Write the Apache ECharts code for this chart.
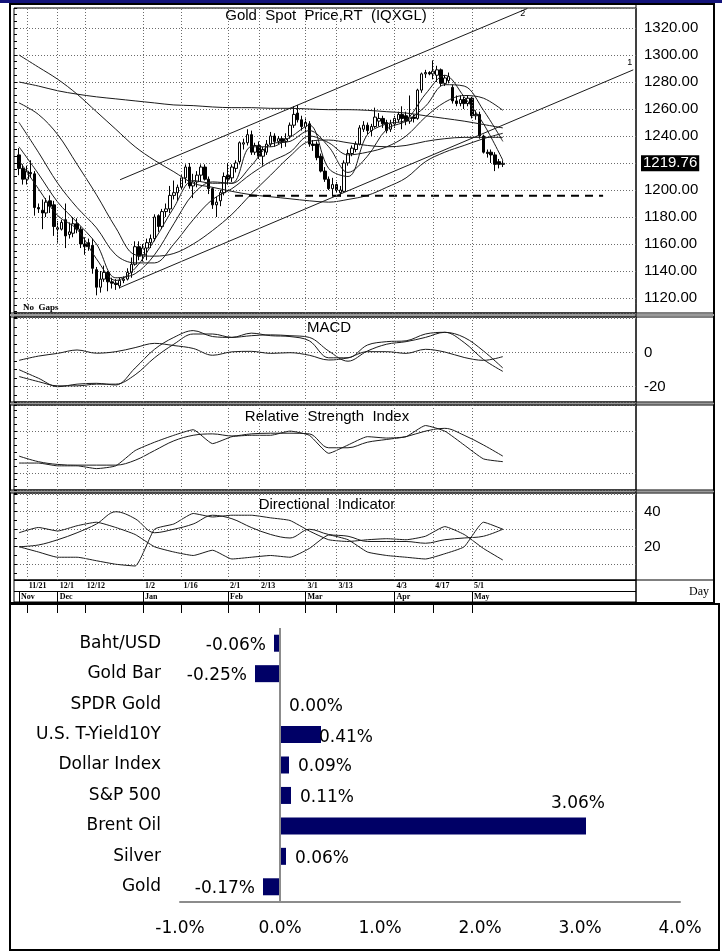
<!DOCTYPE html>
<html>
<head>
<meta charset="utf-8">
<script src="https://cdn.jsdelivr.net/npm/echarts@6/dist/echarts.min.js"></script>
<style>
  html, body { margin: 0; padding: 0; background: #fff; }
  #chart { width: 722px; height: 952px; }
</style>
</head>
<body>
<div id="chart"></div>
<script>
// ---- price candles (one per trading day, Nov 17 .. May 11) ----
const opens = [1226,1216,1208,1213,1212,1187,1185,1183,1192,1189,1172,1171,1178,1167,1168,1175,1171,1160,1161,1159,
  1141,1128,1134,1139,1132,1131,1129,1133,1134,1139,1145,1158,1152,1157,1161,1164,1181,1173,1184,1186,
  1196,1198,1202,1209,1217,1203,1206,1211,1217,1208,1201,1189,1192,1198,1211,1209,1216,1221,1234,1235,
  1241,1228,1233,1225,1228,1234,1240,1236,1238,1236,1240,1248,1257,1252,1247,1249,1234,1234,1225,1214,
  1208,1201,1204,1198,1199,1220,1227,1230,1234,1245,1248,1244,1247,1251,1253,1250,1245,1249,1252,1256,
  1255,1251,1254,1253,1274,1286,1287,1286,1285,1289,1279,1281,1276,1266,1264,1267,1264,1268,1255,1256,
  1240,1228,1228,1226,1221,1219];
const closes = [1216,1208,1214,1212,1187,1186,1183,1191,1188,1173,1171,1176,1166,1169,1175,1171,1160,1158,1158,1142,
  1128,1134,1139,1132,1131,1130,1133,1134,1139,1145,1158,1151,1157,1161,1164,1180,1173,1184,1186,1196,
  1198,1202,1209,1217,1203,1206,1211,1217,1208,1201,1189,1191,1198,1210,1208,1217,1220,1235,1235,1241,
  1228,1233,1225,1230,1234,1240,1236,1238,1236,1238,1248,1256,1252,1247,1250,1234,1233,1224,1214,1208,
  1201,1204,1200,1200,1220,1227,1231,1234,1246,1248,1244,1247,1254,1253,1249,1244,1249,1253,1256,1253,
  1251,1254,1253,1274,1286,1287,1286,1288,1289,1279,1283,1284,1266,1264,1267,1264,1268,1255,1256,1240,
  1228,1227,1226,1219,1219,1219.76];
const lows = [1211,1204,1204,1209,1181,1183,1171,1180,1183,1166,1161,1170,1157,1164,1165,1168,1157,1152,1155,1138,
  1122,1124,1132,1125,1127,1126,1127,1131,1133,1135,1144,1148,1147,1148,1157,1162,1169,1171,1180,1183,
  1193,1192,1200,1205,1201,1194,1202,1206,1207,1197,1186,1180,1188,1196,1204,1206,1213,1219,1230,1233,
  1226,1226,1223,1218,1226,1232,1232,1234,1231,1232,1238,1246,1250,1244,1242,1232,1229,1222,1213,1206,
  1200,1195,1198,1195,1198,1218,1225,1228,1233,1243,1241,1240,1246,1247,1246,1242,1243,1246,1250,1245,
  1248,1249,1250,1252,1272,1283,1285,1282,1280,1277,1277,1279,1264,1262,1262,1260,1262,1253,1252,1238,
  1227,1224,1220,1214,1216,1217];
const highs = [1231,1219,1218,1222,1214,1190,1193,1194,1196,1192,1177,1178,1190,1176,1180,1179,1173,1165,1164,1164,
  1143,1140,1144,1140,1135,1134,1135,1136,1142,1150,1162,1162,1160,1164,1167,1182,1182,1186,1190,1203,
  1207,1204,1211,1219,1220,1212,1214,1219,1219,1210,1202,1195,1200,1213,1220,1219,1222,1236,1238,1245,
  1244,1235,1236,1232,1237,1243,1242,1240,1240,1242,1250,1262,1263,1255,1253,1251,1237,1236,1227,1217,
  1210,1209,1206,1203,1222,1230,1233,1236,1248,1251,1250,1249,1261,1257,1255,1252,1252,1255,1258,1262,
  1258,1270,1256,1275,1287,1289,1288,1296,1292,1290,1285,1287,1278,1270,1270,1269,1270,1269,1259,1258,
  1241,1230,1230,1228,1223,1222];
const lastPrice = 1219.76;

// ---- indicator lines, read every 5th trading day ----
const sampleIdx = [0,5,10,15,20,25,30,35,40,45,50,55,60,65,70,75,80,85,90,95,100,105,110,115,120,125];
const ma5   = [1222,1201,1181,1171,1149,1133,1142,1163,1187,1207,1205,1205,1232,1232,1239,1248,1216,1210,1241,1249,1252,1271,1285,1269,1249,1222];
const ma10  = [1232,1212,1191,1176,1160,1135,1138,1152,1175,1197,1206,1205,1218,1234,1236,1244,1232,1213,1225,1245,1251,1262,1278,1277,1259,1236];
const ma20  = [1250,1228,1205,1187,1172,1152,1146,1146,1160,1178,1193,1201,1212,1221,1228,1240,1235,1226,1228,1232,1240,1254,1265,1270,1268,1259];
const ma30  = [1264.5,1256,1241,1219,1196.5,1172,1152,1151,1153,1160,1170,1182,1197,1211,1225,1236,1237,1235,1233,1232,1233,1236,1238,1239,1239,1239];
const ma100 = [1300,1291,1282,1271,1258,1245,1232,1222,1213.5,1205,1202,1199,1196.5,1195,1193.5,1192,1191,1193,1196,1202,1209,1221,1228,1233,1238,1242];
const ma200 = [1280,1277,1273.5,1271,1269,1267.5,1266,1264.5,1263,1262.5,1261.5,1261,1261,1260.5,1260.5,1260,1259.5,1259.5,1259,1258,1257,1255,1253,1251,1248.5,1246];

const macdLine = [-10,-15,-20,-18.5,-18,-19,-9,2,9,13,9.5,9,11.5,10,9.5,7,-3,-3,4.5,6.5,7,11,12,6,-4,-11];
const macdSig  = [-14,-17,-19.5,-19.5,-18.5,-18.5,-13,-3,5,11,11,9,10,10.5,10,9,1,-5,1,5,6.5,9,12,9,1,-9];
const macdDiff = [-4.5,-2,-0.4,1.6,-0.3,0.6,3,5.5,4.2,2.5,-1.5,0.5,0.8,-0.4,0,-1.5,-4.3,-3,0.6,0.6,-0.4,2,0.4,-2.8,-4.5,-2.3];

const rsi   = [37,37,35,35,33,35,46,52,57,61,51,56,57,57,60,57,44,50,56,55,56,64,60,50,40,38];
const rsiMa = [42,38,36,35.5,35.5,35.5,39,46,53,57,58,56.5,58,58.5,58.5,58,48,48,52,54,56,60,62,57,50,42];

const plusDI  = [20,17,14,14,12,10,9,30,33,39,37,38,38,36.5,35,29,24,23,24,24.6,24,26,31.5,27,19,12.4];
const minusDI = [28,31,29,32,34,31,27,20,17,15,18,13,14,15,14,19,26.7,24,17,15,14,13,16,20,34,30];
const adx     = [20,21,24,28,33,40,36,28,30,33,38,36,31,27,25,30,27,26,23,23,23,22,24,25,26,30];

// ---- chart annotations (day index, price) ----
const trend1 = [[26.1, 1127.8], [158.7, 1289]];
const trend2 = [[26.1, 1207.6], [131.3, 1334.4]];
const support = [[55.8, 1195.8], [150.9, 1195.8]];

// ---- axis labels ----
const dayIdx = [2,10,17,32,42,54,62,74,82,97,107,117];
const dayLabels = ['11/21','12/1','12/12','1/2','1/16','2/1','2/13','3/1','3/13','4/3','4/17','5/1'];
const monthIdx = [0,10,32,54,74,97,117];
const monthLabels = ['Nov','Dec','Jan','Feb','Mar','Apr','May'];
const priceTicks = [1120,1140,1160,1180,1200,1220,1240,1260,1280,1300,1320];
const macdTicks = [0,-20];
const rsiTicks = [50];
const diTicks = [20,40];

// ---- weekly change bar chart ----
const barCats = ['Baht/USD','Gold Bar','SPDR Gold','U.S. T-Yield10Y','Dollar Index','S&P 500','Brent Oil','Silver','Gold'];
const barVals = [-0.06,-0.25,0.00,0.41,0.09,0.11,3.06,0.06,-0.17];

const FONT = 'Liberation Sans';
const NARROW = 'Liberation Sans Narrow';
const BARFONT = 'DejaVu Sans';
const LINE = '#1a1a1a';
const GRIDLINE = { type: [1, 2], color: '#6b6b6b', width: 1 };

// panel ranges: [min, max, splitNumber, minor splits]
const panels = [
  [1108.9, 1334.8, 11, 4],
  [-29, 21, 3, 4],
  [17.6, 78.8, 2, 6],
  [1, 50.7, 5, 2]
];

function pairs(idx, vals) {
  return idx.map((x, k) => [x, vals[k]]);
}
function line(grid, vals, extra) {
  return Object.assign({
    type: 'line', xAxisIndex: grid, yAxisIndex: grid,
    data: pairs(sampleIdx, vals), smooth: 0.35, showSymbol: false, silent: true,
    lineStyle: { color: LINE, width: 1 }
  }, extra || {});
}
function vGrid() {
  return {
    silent: true, symbol: 'none', label: { show: false },
    lineStyle: GRIDLINE,
    data: dayIdx.map(v => ({ xAxis: v }))
  };
}
function panelX(grid) {
  return {
    type: 'value', gridIndex: grid, min: -1.3, max: 159.4,
    axisLine: { show: false }, axisTick: { show: false },
    axisLabel: { show: false }, splitLine: { show: false }
  };
}
function panelY(grid, ticks, fmt) {
  const p = panels[grid];
  return {
    type: 'value', gridIndex: grid, position: 'right', min: p[0], max: p[1], splitNumber: p[2],
    axisLine: { show: false }, axisTick: { show: false },
    splitLine: { show: true, lineStyle: GRIDLINE },
    axisLabel: {
      color: '#000', fontFamily: FONT, fontSize: 15, margin: 8,
      formatter: v => (ticks.indexOf(v) >= 0 ? fmt(v) : '')
    }
  };
}
function leftTicks(grid) {
  const p = panels[grid];
  return {
    type: 'value', gridIndex: grid, position: 'left', min: p[0], max: p[1], splitNumber: p[2],
    axisLine: { show: false }, axisLabel: { show: false }, splitLine: { show: false },
    axisTick: { show: true, inside: true, length: 3, lineStyle: { color: '#000' } },
    minorTick: { show: true, splitNumber: p[3], length: 3, lineStyle: { color: '#000' } }
  };
}

const chart = echarts.init(document.getElementById('chart'));

const gridBase = { left: 14, width: 622, show: true, borderColor: '#000', borderWidth: 1, containLabel: false };

const option = {
  animation: false,
  backgroundColor: '#fff',
  grid: [
    Object.assign({ top: 8, height: 305 }, gridBase),
    Object.assign({ top: 317, height: 85 }, gridBase),
    Object.assign({ top: 405, height: 85 }, gridBase),
    Object.assign({ top: 493, height: 87 }, gridBase),
    Object.assign({ top: 580, height: 22 }, gridBase),
    { left: 180, top: 628, width: 500, height: 274, show: false }
  ],
  xAxis: [
    panelX(0), panelX(1), panelX(2), panelX(3),
    {
      type: 'value', gridIndex: 4, position: 'top', min: -1.3, max: 159.4,
      axisLine: { show: false }, splitLine: { show: false },
      axisTick: { show: true, customValues: dayIdx, inside: true, length: 11, lineStyle: { color: '#000' } },
      axisLabel: {
        customValues: dayIdx, inside: true, align: 'left', verticalAlign: 'top', margin: 2,
        padding: [0, 0, 0, 2], color: '#000', fontFamily: NARROW, fontWeight: 'bold', fontSize: 8,
        formatter: v => dayLabels[dayIdx.indexOf(v)]
      }
    },
    {
      type: 'value', gridIndex: 4, position: 'bottom', min: -1.3, max: 159.4,
      axisLine: { show: false }, splitLine: { show: false },
      axisTick: { show: true, customValues: monthIdx, inside: true, length: 11, lineStyle: { color: '#000' } },
      axisLabel: {
        customValues: monthIdx, inside: true, align: 'left', verticalAlign: 'bottom', margin: 1,
        padding: [0, 0, 0, 2], color: '#000', fontFamily: NARROW, fontWeight: 'bold', fontSize: 8,
        formatter: v => monthLabels[monthIdx.indexOf(v)]
      }
    },
    {
      type: 'value', gridIndex: 5, min: -1, max: 4, interval: 1,
      axisLine: { show: true, onZero: false, lineStyle: { color: '#8c8c8c', width: 2 } },
      axisTick: { show: false }, splitLine: { show: false },
      axisLabel: { color: '#000', fontFamily: BARFONT, fontSize: 17, margin: 18, formatter: v => v.toFixed(1) + '%' }
    }
  ],
  yAxis: [
    panelY(0, priceTicks, v => v.toFixed(2)),
    panelY(1, macdTicks, v => String(v)),
    panelY(2, rsiTicks, v => String(v)),
    panelY(3, diTicks, v => String(v)),
    {
      type: 'value', gridIndex: 4, min: 0, max: 2, interval: 1,
      axisLine: { show: false }, axisTick: { show: false }, axisLabel: { show: false },
      splitLine: { show: true, lineStyle: { color: '#000', width: 1 } }
    },
    {
      type: 'category', gridIndex: 5, data: barCats, inverse: true,
      axisLine: { show: false }, axisTick: { show: false },
      axisLabel: { color: '#000', fontFamily: BARFONT, fontSize: 17, margin: 19 }
    },
    leftTicks(0), leftTicks(1), leftTicks(2), leftTicks(3)
  ],
  series: [
    // price panel
    line(0, ma200), line(0, ma100), line(0, ma30), line(0, ma20), line(0, ma10), line(0, ma5),
    {
      type: 'line', xAxisIndex: 0, yAxisIndex: 0, data: trend1, showSymbol: false, silent: true,
      lineStyle: { color: LINE, width: 1 },
      endLabel: { show: true, formatter: '1', distance: 0, offset: [-6, -7], fontSize: 9, fontFamily: FONT, color: '#000' }
    },
    {
      type: 'line', xAxisIndex: 0, yAxisIndex: 0, data: trend2, showSymbol: false, silent: true,
      lineStyle: { color: LINE, width: 1 },
      endLabel: { show: true, formatter: '2', distance: 0, offset: [-7, 5], fontSize: 9, fontFamily: FONT, color: '#000' }
    },
    {
      type: 'line', xAxisIndex: 0, yAxisIndex: 0, data: support, showSymbol: false, silent: true,
      lineStyle: { color: '#000', width: 2, type: [8, 6] }
    },
    {
      type: 'candlestick', xAxisIndex: 0, yAxisIndex: 0,
      data: opens.map((o, i) => [i, o, closes[i], lows[i], highs[i]]),
      encode: { x: 0, y: [1, 2, 3, 4] },
      barWidth: 3,
      itemStyle: { color: '#fff', color0: '#000', borderColor: '#000', borderColor0: '#000', borderWidth: 1 },
      markLine: {
        silent: true, symbol: 'none',
        lineStyle: { color: 'transparent' },
        label: {
          position: 'end', distance: 5, formatter: lastPrice.toFixed(2),
          backgroundColor: '#000', color: '#fff', fontFamily: FONT, fontSize: 15, padding: [1, 2, 0, 2]
        },
        data: [{ yAxis: lastPrice }]
      }
    },
    {
      type: 'line', xAxisIndex: 0, yAxisIndex: 0, data: [], markLine: vGrid()
    },
    // MACD
    line(1, macdDiff), line(1, macdSig), line(1, macdLine, { markLine: vGrid() }),
    // RSI
    line(2, rsiMa), line(2, rsi, { smooth: 0.15, markLine: vGrid() }),
    // Directional indicator
    line(3, adx), line(3, plusDI, { smooth: 0.15 }), line(3, minusDI, { smooth: 0.15, markLine: vGrid() }),
    // weekly change bars
    {
      type: 'bar', xAxisIndex: 6, yAxisIndex: 5, barWidth: 17,
      itemStyle: { color: '#000066' },
      data: barVals.map((v, k) => {
        const item = { value: v, label: { position: v < 0 ? 'left' : 'right', distance: v < 0 ? 8 : 9, offset: [0, 2] } };
        if (barCats[k] === 'Brent Oil') item.label = { position: 'right', distance: 5, offset: [-40, -22] };
        if (barCats[k] === 'U.S. T-Yield10Y') item.label = { position: 'right', distance: 5, offset: [-7, 3] };
        return item;
      }),
      label: {
        show: true, color: '#000', fontFamily: BARFONT, fontSize: 17,
        formatter: p => p.value.toFixed(2) + '%'
      },
      markLine: {
        silent: true, symbol: 'none', label: { show: false },
        lineStyle: { color: '#8c8c8c', width: 2, type: 'solid' },
        data: [{ xAxis: 0 }]
      }
    }
  ],
  graphic: [
    { type: 'rect', shape: { x: 0, y: 0, width: 722, height: 3 }, style: { fill: '#13137a' } },
    { type: 'rect', shape: { x: 10, y: 4, width: 704, height: 599 }, style: { fill: 'none', stroke: '#000', lineWidth: 2 } },
    { type: 'line', shape: { x1: 10, y1: 315, x2: 714, y2: 315 }, style: { stroke: '#9a9a9a', lineWidth: 2 } },
    { type: 'line', shape: { x1: 10, y1: 313, x2: 714, y2: 313 }, style: { stroke: '#000', lineWidth: 1 } },
    { type: 'line', shape: { x1: 10, y1: 317, x2: 714, y2: 317 }, style: { stroke: '#000', lineWidth: 1 } },
    { type: 'line', shape: { x1: 10, y1: 403.5, x2: 714, y2: 403.5 }, style: { stroke: '#9a9a9a', lineWidth: 2 } },
    { type: 'line', shape: { x1: 10, y1: 402, x2: 714, y2: 402 }, style: { stroke: '#000', lineWidth: 1 } },
    { type: 'line', shape: { x1: 10, y1: 405, x2: 714, y2: 405 }, style: { stroke: '#000', lineWidth: 1 } },
    { type: 'line', shape: { x1: 10, y1: 491.5, x2: 714, y2: 491.5 }, style: { stroke: '#9a9a9a', lineWidth: 2 } },
    { type: 'line', shape: { x1: 10, y1: 490, x2: 714, y2: 490 }, style: { stroke: '#000', lineWidth: 1 } },
    { type: 'line', shape: { x1: 10, y1: 493, x2: 714, y2: 493 }, style: { stroke: '#000', lineWidth: 1 } },
    { type: 'line', shape: { x1: 636, y1: 580, x2: 714, y2: 580 }, style: { stroke: '#000', lineWidth: 1 } },
    { type: 'line', shape: { x1: 636, y1: 4, x2: 636, y2: 603 }, style: { stroke: '#000', lineWidth: 1 } },
    { type: 'text', x: 326, y: 16, style: { text: 'Gold  Spot  Price,RT  (IQXGL)', font: '15px "Liberation Sans"', fill: '#000', textAlign: 'center', textVerticalAlign: 'middle' } },
    { type: 'text', x: 329, y: 328, style: { text: 'MACD', font: '15px "Liberation Sans"', fill: '#000', textAlign: 'center', textVerticalAlign: 'middle' } },
    { type: 'text', x: 327, y: 417, style: { text: 'Relative  Strength  Index', font: '15px "Liberation Sans"', fill: '#000', textAlign: 'center', textVerticalAlign: 'middle' } },
    { type: 'text', x: 327, y: 505, style: { text: 'Directional  Indicator', font: '15px "Liberation Sans"', fill: '#000', textAlign: 'center', textVerticalAlign: 'middle' } },
    { type: 'text', x: 23, y: 308, style: { text: 'No  Gaps', font: 'bold 9px "Liberation Sans Narrow"', fill: '#000', textAlign: 'left', textVerticalAlign: 'middle' } },
    { type: 'text', x: 689, y: 592, style: { text: 'Day', font: '12px "Liberation Sans Narrow"', fill: '#000', textAlign: 'left', textVerticalAlign: 'middle' } },
    { type: 'rect', shape: { x: 10, y: 604, width: 709, height: 346 }, style: { fill: 'none', stroke: '#000', lineWidth: 2 } }
  ]
};

chart.setOption(option);
window.addEventListener('resize', function () {
  chart.resize();
});
</script>
</body>
</html>
